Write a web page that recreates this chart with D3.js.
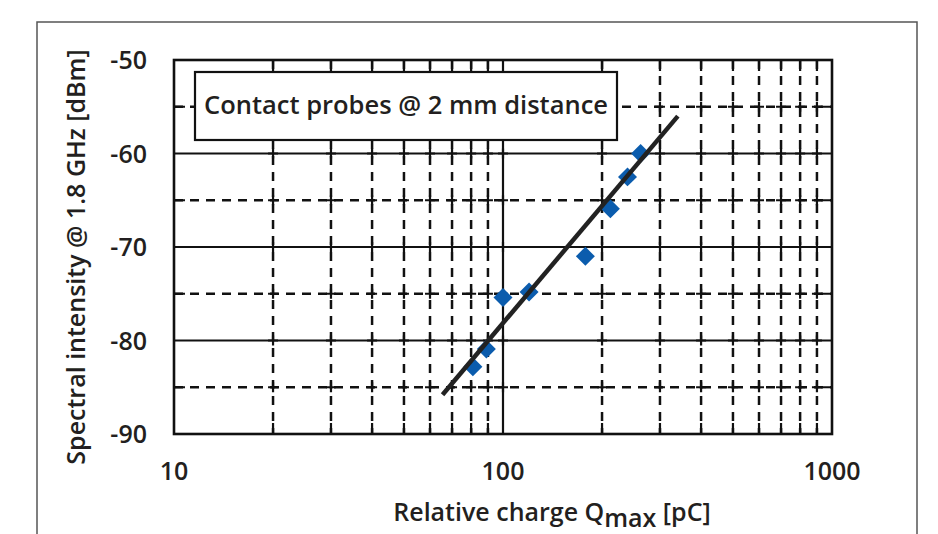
<!DOCTYPE html>
<html>
<head>
<meta charset="utf-8">
<script src="https://cdn.jsdelivr.net/npm/d3@7"></script>
<style>
  body { margin: 0; background: #fff; }
  text { font-family: "Open Sans", "DejaVu Sans", sans-serif; font-weight: 600; fill: #231f20; }
</style>
</head>
<body>
<svg id="chart"></svg>
<script>
// chart size
var width = 938;
var height = 534;

// data
var charge = [81, 89, 100, 120, 178, 212, 239, 262];          // pC
var intensity = [-82.8, -80.9, -75.4, -74.8, -71.0, -65.9, -62.5, -60.0]; // dBm
var fitCharge = [65.5, 340];
var fitIntensity = [-85.8, -56.0];
var xTicks = [10, 100, 1000];
var yTicks = [-90, -80, -70, -60, -50];
var yMinor = [-85, -75, -65, -55];
var legendText = "Contact probes @ 2 mm distance";

var margin = { left: 174, right: 106, top: 60, bottom: 100 };

var svg = d3.select("#chart")
    .attr("width", width)
    .attr("height", height);

// outer frame
svg.append("rect")
    .attr("x", 37).attr("y", 22)
    .attr("width", 880).attr("height", 540)
    .attr("fill", "none")
    .attr("stroke", "#555")
    .attr("stroke-width", 1.5);

var x = d3.scaleLog().domain([10, 1000]).range([margin.left, width - margin.right]);
var y = d3.scaleLinear().domain([-90, -50]).range([height - margin.bottom, margin.top]);

var g = svg.append("g");

// minor gridlines (dashed)
var xMinor = [];
[10, 100].forEach(function (d) {
    for (var k = 2; k <= 9; k++) xMinor.push(d * k);
});

g.selectAll("line.xminor")
    .data(xMinor)
    .join("line")
    .attr("class", "xminor")
    .attr("x1", (d) => x(d)).attr("x2", (d) => x(d))
    .attr("y1", y(-50)).attr("y2", y(-90))
    .attr("stroke", "#111")
    .attr("stroke-width", 2.5)
    .attr("stroke-dasharray", "9,7");

g.selectAll("line.yminor")
    .data(yMinor)
    .join("line")
    .attr("class", "yminor")
    .attr("x1", x(10)).attr("x2", x(1000))
    .attr("y1", (d) => y(d)).attr("y2", (d) => y(d))
    .attr("stroke", "#111")
    .attr("stroke-width", 2.5)
    .attr("stroke-dasharray", "9,7");

// small solid ticks at the crossings
var crossings = [];
xMinor.concat([100]).forEach(function (a) {
    yMinor.concat([-60, -70, -80]).forEach(function (b) { crossings.push([a, b]); });
});
g.selectAll("path.cross")
    .data(crossings)
    .join("path")
    .attr("class", "cross")
    .attr("d", (d) => "M" + (x(d[0]) - 5) + "," + y(d[1]) + "h10M" + x(d[0]) + "," + (y(d[1]) - 5) + "v10")
    .attr("stroke", "#111")
    .attr("stroke-width", 2.2);

// minor ticks on the frame edges
g.selectAll("path.xedge")
    .data(xMinor)
    .join("path")
    .attr("class", "xedge")
    .attr("d", (d) => "M" + x(d) + "," + y(-50) + "v11M" + x(d) + "," + y(-90) + "v-11")
    .attr("stroke", "#111")
    .attr("stroke-width", 2.2);

g.selectAll("path.yedge")
    .data(yMinor)
    .join("path")
    .attr("class", "yedge")
    .attr("d", (d) => "M" + x(10) + "," + y(d) + "h11M" + x(1000) + "," + y(d) + "h-11")
    .attr("stroke", "#111")
    .attr("stroke-width", 2.2);

// major gridlines (solid)
g.selectAll("line.ymajor")
    .data([-80, -70, -60])
    .join("line")
    .attr("class", "ymajor")
    .attr("x1", x(10)).attr("x2", x(1000))
    .attr("y1", (d) => y(d)).attr("y2", (d) => y(d))
    .attr("stroke", "#111")
    .attr("stroke-width", 2.2);

g.append("line")
    .attr("x1", x(100)).attr("x2", x(100))
    .attr("y1", y(-50)).attr("y2", y(-90))
    .attr("stroke", "#111")
    .attr("stroke-width", 2.2);

// plot frame
g.append("rect")
    .attr("x", x(10)).attr("y", y(-50))
    .attr("width", x(1000) - x(10)).attr("height", y(-90) - y(-50))
    .attr("fill", "none")
    .attr("stroke", "#111")
    .attr("stroke-width", 2.6);

// legend box
var lg = svg.append("g");
lg.append("rect")
    .attr("x", 195).attr("y", 72)
    .attr("width", 422).attr("height", 68)
    .attr("fill", "#fff")
    .attr("stroke", "#111")
    .attr("stroke-width", 2.2);
lg.append("text")
    .attr("x", 406).attr("y", 114)
    .attr("text-anchor", "middle")
    .style("font-size", "25.5px")
    .text(legendText);

// points
var diamond = d3.symbol().type(d3.symbolDiamond2).size(230);
svg.append("g")
    .selectAll("path")
    .data(charge.map((c, i) => [c, intensity[i]]))
    .join("path")
    .attr("d", diamond)
    .attr("transform", (d) => "translate(" + x(d[0]) + "," + y(d[1]) + ")")
    .attr("fill", "#0b5cad");

// trend line
svg.append("line")
    .attr("x1", x(fitCharge[0])).attr("y1", y(fitIntensity[0]))
    .attr("x2", x(fitCharge[1])).attr("y2", y(fitIntensity[1]))
    .attr("stroke", "#222")
    .attr("stroke-width", 4.5);

// tick labels
svg.append("g")
    .selectAll("text")
    .data(yTicks)
    .join("text")
    .attr("x", 147)
    .attr("y", (d) => y(d))
    .attr("dy", "0.36em")
    .attr("text-anchor", "end")
    .style("font-size", "25px")
    .text((d) => d);

svg.append("g")
    .selectAll("text")
    .data(xTicks)
    .join("text")
    .attr("x", (d) => x(d))
    .attr("y", 480)
    .attr("text-anchor", "middle")
    .style("font-size", "25px")
    .text((d) => d);

// axis titles
var xt = svg.append("text")
    .attr("x", 552)
    .attr("y", 521)
    .attr("text-anchor", "middle")
    .style("font-size", "25px");
xt.append("tspan").text("Relative charge Q");
xt.append("tspan").attr("dy", 6).text("max");
xt.append("tspan").attr("dy", -6).text(" [pC]");

svg.append("text")
    .attr("transform", "translate(85,257) rotate(-90)")
    .attr("text-anchor", "middle")
    .style("font-size", "25px")
    .text("Spectral intensity @ 1.8 GHz [dBm]");
</script>
</body>
</html>
